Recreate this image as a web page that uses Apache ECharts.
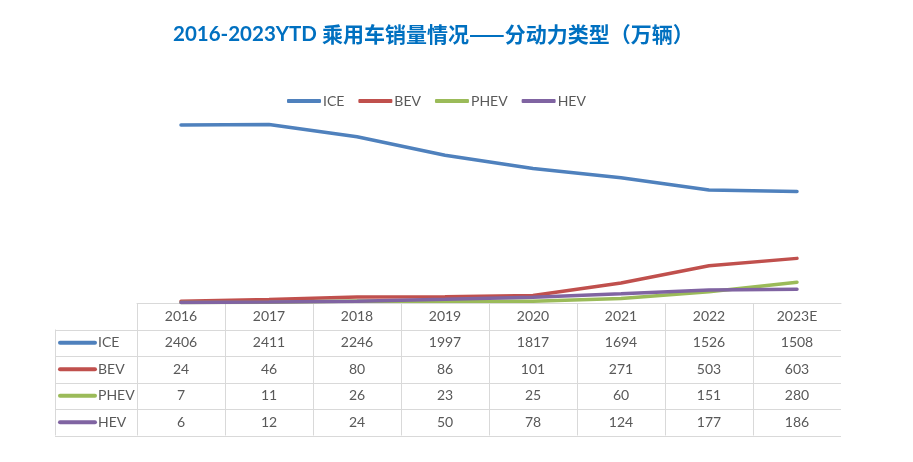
<!DOCTYPE html>
<html>
<head>
<meta charset="utf-8">
<script src="https://cdn.jsdelivr.net/npm/echarts@6/dist/echarts.min.js"></script>
<style>
  html, body { margin: 0; padding: 0; background: #fff; }
  #main { width: 913px; height: 462px; }
</style>
</head>
<body>
<div id="main"></div>
<script type="text/javascript">
	// 数据
	var years = ['2016', '2017', '2018', '2019', '2020', '2021', '2022', '2023E'];
	var seriesNames = ['ICE', 'BEV', 'PHEV', 'HEV'];
	var ice = [2406, 2411, 2246, 1997, 1817, 1694, 1526, 1508];
	var bev = [24, 46, 80, 86, 101, 271, 503, 603];
	var phev = [7, 11, 26, 23, 25, 60, 151, 280];
	var hev = [6, 12, 24, 50, 78, 124, 177, 186];
	var colors = ['#4F81BD', '#C0504D', '#9BBB59', '#8064A2'];
	var allData = [ice, bev, phev, hev];

	var font = 'Lato, "Noto Sans CJK SC", sans-serif';
	var rowH = 26.5;

	var myChart = echarts.init(document.getElementById('main'));

	var series = [];
	for (var i = 0; i < seriesNames.length; i++) {
		series.push({
			name: seriesNames[i],
			type: 'line',
			data: allData[i],
			showSymbol: false,
			symbol: 'none',
			lineStyle: { width: 3.5, color: colors[i], cap: 'round' },
			itemStyle: { color: colors[i] }
		});
	}

	var option = {
		backgroundColor: '#fff',
		animation: false,
		title: {
			text: '{a|2016-2023YTD }{b|乘用车销量情况——分动力类型（万辆）}',
			left: 168,
			top: 19,
			textStyle: {
				rich: {
					a: { color: '#0070C0', fontSize: 20.5, fontWeight: 'bold', fontFamily: 'Lato, sans-serif' },
					b: { color: '#0070C0', fontSize: 21, fontWeight: 'bold', fontFamily: '"Noto Sans CJK SC", sans-serif' }
				}
			}
		},
		legend: {
			data: seriesNames,
			left: 282,
			top: 89,
			icon: 'roundRect',
			itemWidth: 34,
			itemHeight: 4,
			itemGap: 14,
			textStyle: { color: '#595959', fontSize: 14, fontFamily: font, padding: [0, 0, 0, -3] }
		},
		grid: { left: 137, right: 72, top: 81, bottom: 159 },
		xAxis: {
			type: 'category',
			data: years,
			boundaryGap: true,
			axisLine: { show: true, lineStyle: { color: '#D9D9D9', width: 1 } },
			axisTick: { show: false },
			axisLabel: {
				margin: 0,
				color: '#595959',
				fontSize: 14,
				fontFamily: font,
				lineHeight: rowH,
				interval: 0,
				formatter: function (value, idx) {
					return [value, ice[idx], bev[idx], phev[idx], hev[idx]].join('\n');
				}
			}
		},
		yAxis: {
			type: 'value',
			min: 0,
			max: 3000,
			show: false,
			splitLine: { show: false }
		},
		series: series
	};

	myChart.setOption(option);

	// 表格线和左侧图例列
	var top0 = 303;
	var xLeft = 55, xEnd = 841;
	var bounds = [];
	var half = (myChart.convertToPixel({ xAxisIndex: 0 }, 1) - myChart.convertToPixel({ xAxisIndex: 0 }, 0)) / 2;
	for (var i = 0; i < years.length; i++) {
		bounds.push(myChart.convertToPixel({ xAxisIndex: 0 }, i) - half);
	}
	var yBottom = top0 + rowH * 5;
	var lineStyle = { stroke: '#D9D9D9', lineWidth: 1 };
	var graphics = [];
	for (var r = 1; r <= 5; r++) {
		var y = Math.round(top0 + rowH * r) + 0.5;
		graphics.push({ type: 'line', shape: { x1: xLeft, y1: y, x2: xEnd, y2: y }, style: lineStyle, silent: true });
	}
	for (var i = 0; i < bounds.length; i++) {
		var x = Math.round(bounds[i]) + 0.5;
		graphics.push({ type: 'line', shape: { x1: x, y1: top0, x2: x, y2: yBottom }, style: lineStyle, silent: true });
	}
	graphics.push({ type: 'line', shape: { x1: xLeft + 0.5, y1: top0 + rowH, x2: xLeft + 0.5, y2: yBottom }, style: lineStyle, silent: true });

	for (var i = 0; i < seriesNames.length; i++) {
		var cy = top0 + rowH * (i + 1.5);
		graphics.push({
			type: 'line',
			shape: { x1: 60, y1: cy, x2: 95, y2: cy },
			style: { stroke: colors[i], lineWidth: 4, lineCap: 'round' },
			silent: true
		});
		graphics.push({
			type: 'text',
			x: 98,
			y: cy,
			style: { text: seriesNames[i], fill: '#595959', font: '14px ' + font, verticalAlign: 'middle' },
			silent: true
		});
	}
	myChart.setOption({ graphic: graphics });
</script>
</body>
</html>
